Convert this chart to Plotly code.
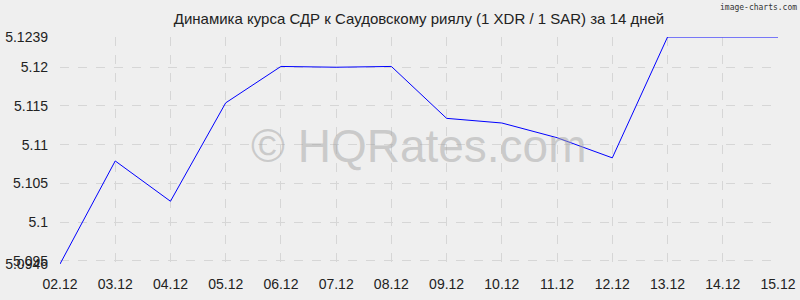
import plotly.graph_objects as go

dates = ["02.12", "03.12", "04.12", "05.12", "06.12", "07.12", "08.12",
         "09.12", "10.12", "11.12", "12.12", "13.12", "14.12", "15.12"]
rates = [5.0946, 5.1079, 5.1027, 5.1154, 5.1201, 5.1200, 5.1201,
         5.1134, 5.1128, 5.1109, 5.1083, 5.1239, 5.1239, 5.1239]
y_ticks = [5.0946, 5.095, 5.1, 5.105, 5.11, 5.115, 5.12, 5.1239]
y_labels = ["5.0946", "5.095", "5.1", "5.105", "5.11", "5.115", "5.12", "5.1239"]

x_idx = list(range(len(dates)))

fig = go.Figure()
fig.add_trace(go.Scatter(x=x_idx, y=rates, mode="lines",
                         line=dict(color="#0000ff", width=1), hoverinfo="skip"))

grid = "#d6d6d6"
fig.update_layout(
    width=800, height=300,
    paper_bgcolor="#efefef", plot_bgcolor="#efefef",
    margin=dict(l=60, r=22, t=37, b=36),
    showlegend=False,
    font=dict(family="Liberation Sans, Arial, sans-serif", size=13, color="#222222"),
    title=dict(text="Динамика курса СДР к Саудовскому риялу (1 XDR / 1 SAR) за 14 дней",
               x=0.5, xref="paper", xanchor="center", y=1 - 19 / 300, yanchor="middle",
               font=dict(size=15, color="#222222")),
    xaxis=dict(range=[0, len(dates) - 1], tickvals=x_idx, ticktext=dates,
               showgrid=True, gridcolor=grid, griddash="dash", gridwidth=1,
               zeroline=False, showline=False, ticks="", fixedrange=True,
               automargin=False, ticklabelstandoff=10, tickfont=dict(size=14)),
    yaxis=dict(range=[y_ticks[0], y_ticks[-1]], tickvals=y_ticks, ticktext=y_labels,
               showgrid=True, gridcolor=grid, griddash="dash", gridwidth=1,
               zeroline=False, showline=False, ticks="", fixedrange=True,
               automargin=False, ticklabelstandoff=11, tickfont=dict(size=14)),
    annotations=[
        dict(text="© HQRates.com", x=0.5, y=0.52, xref="paper", yref="paper",
             showarrow=False, font=dict(size=46, color="rgba(165,165,165,0.5)",
                                        family="Liberation Sans, Arial, sans-serif")),
        dict(text="image-charts.com", x=1, y=1, xref="paper", yref="paper",
             xanchor="right", yanchor="top", xshift=21, yshift=36, showarrow=False,
             font=dict(size=8, color="#333333", family="DejaVu Sans Mono, monospace")),
    ],
)

fig.write_html("out.html")
